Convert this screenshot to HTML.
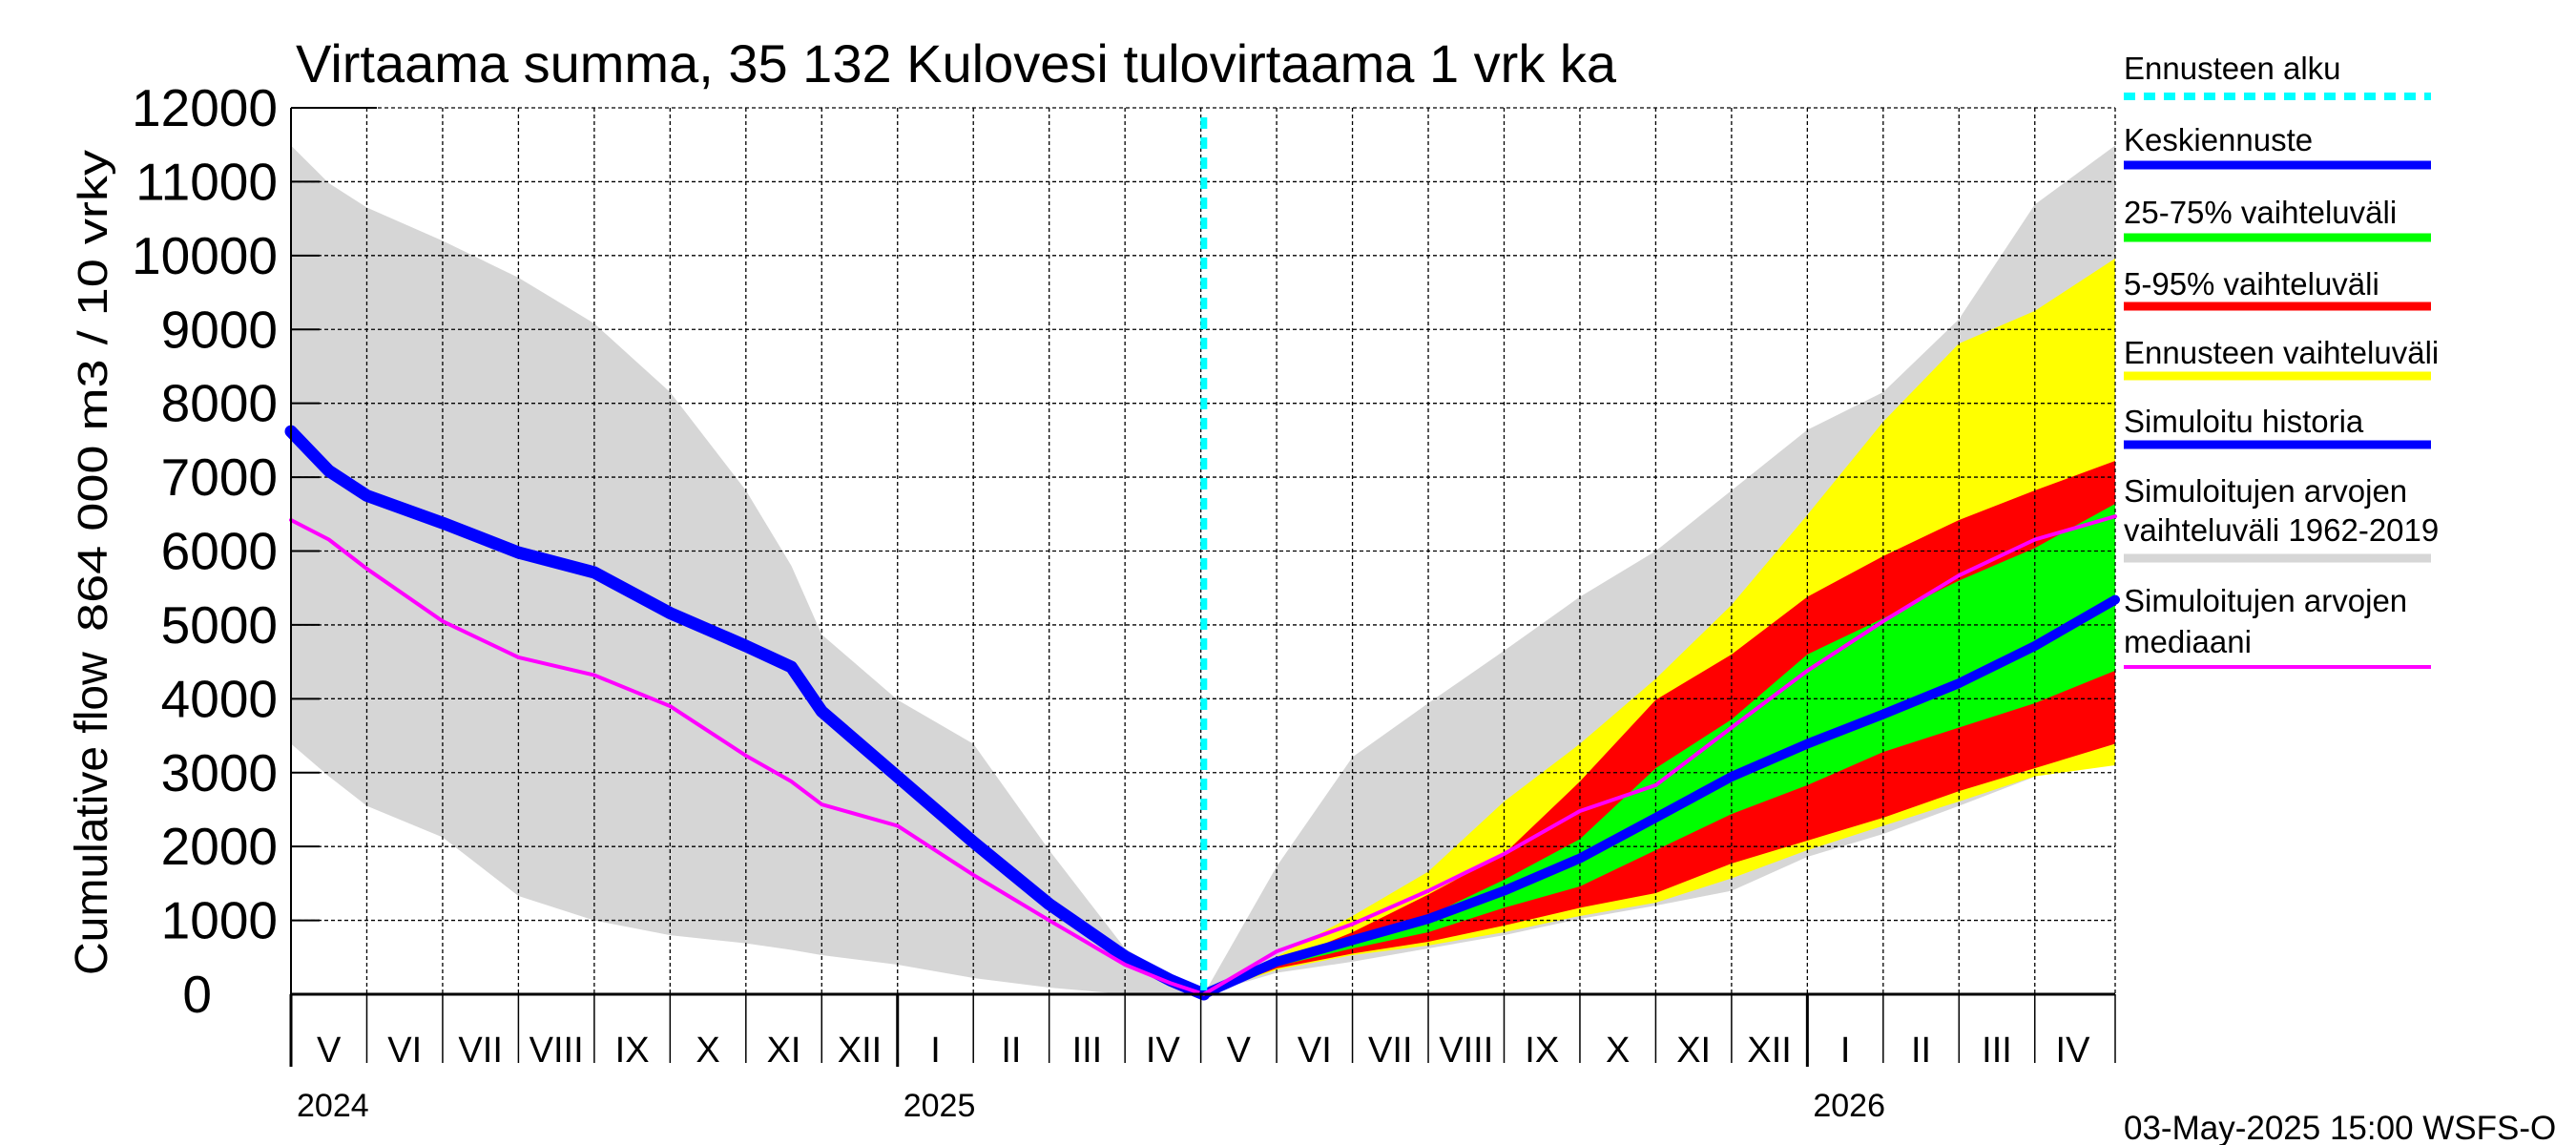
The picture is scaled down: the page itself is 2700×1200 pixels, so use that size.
<!DOCTYPE html>
<html><head><meta charset="utf-8"><style>
body{margin:0;background:#fff}
svg{display:block;font-family:"Liberation Sans",sans-serif}
</style></head><body>
<svg id="chart" width="2700" height="1200" viewBox="0 0 2700 1200" xmlns="http://www.w3.org/2000/svg">
<text x="310" y="86" font-size="56">Virtaama summa, 35 132 Kulovesi tulovirtaama 1 vrk ka</text>
<g font-size="48">
<text transform="translate(112,1022) rotate(-90)">Cumulative flow</text>
<text transform="translate(112,662) rotate(-90)" font-size="44" textLength="505" lengthAdjust="spacingAndGlyphs">864 000 m3 / 10 vrky</text>
</g>
<g id="fills"></g><g id="grid"></g><g id="lines"></g><g id="axes"></g>
<g font-size="33">
<text x="2226" y="83">Ennusteen alku</text>
<line x1="2226" y1="101" x2="2548" y2="101" stroke="#00ffff" stroke-width="8" stroke-dasharray="12,9"/>
<text x="2226" y="158">Keskiennuste</text>
<line x1="2226" y1="173" x2="2548" y2="173" stroke="#0000ff" stroke-width="9"/>
<text x="2226" y="234">25-75% vaihteluväli</text>
<line x1="2226" y1="249" x2="2548" y2="249" stroke="#00ff00" stroke-width="9"/>
<text x="2226" y="309">5-95% vaihteluväli</text>
<line x1="2226" y1="321" x2="2548" y2="321" stroke="#ff0000" stroke-width="9"/>
<text x="2226" y="381">Ennusteen vaihteluväli</text>
<line x1="2226" y1="394" x2="2548" y2="394" stroke="#ffff00" stroke-width="9"/>
<text x="2226" y="453">Simuloitu historia</text>
<line x1="2226" y1="466" x2="2548" y2="466" stroke="#0000ff" stroke-width="9"/>
<text x="2226" y="526">Simuloitujen arvojen</text>
<text x="2226" y="567">vaihteluväli 1962-2019</text>
<line x1="2226" y1="585" x2="2548" y2="585" stroke="#d6d6d6" stroke-width="9"/>
<text x="2226" y="641">Simuloitujen arvojen</text>
<text x="2226" y="684">mediaani</text>
<line x1="2226" y1="699" x2="2548" y2="699" stroke="#ff00ff" stroke-width="4"/>
</g>
<text x="2226" y="1194" font-size="35">03-May-2025 15:00 WSFS-O</text>
</svg>
<script>
// month index (0 = May 2024)
const histT = [0,0.5,1,2,3,4,5,6,6.6,7,8,9,10,11,11.6,12.04];
const histGrayHi = [11490,10980,10650,10200,9700,9080,8150,6820,5800,4870,3985,3390,1950,620,250,0];
const histGrayLo = [3390,2950,2550,2125,1330,1000,800,690,600,530,400,220,90,0,0,0];
const histBlue = [7620,7085,6750,6380,5980,5710,5160,4715,4430,3830,2945,2060,1220,510,190,0];
const histMag = [6420,6155,5760,5050,4560,4320,3900,3230,2880,2570,2280,1615,1000,400,150,0];
const fcT = [12.04,13,14,15,16,17,18,19,20,21,22,23,24.06];
const grayHi = [0,1730,3210,3940,4650,5380,6000,6820,7640,8150,9140,10690,11490];
const grayLo = [0,290,440,620,800,1020,1200,1400,1860,2170,2550,2945,3430];
const yelHi = [0,510,1060,1660,2610,3390,4270,5270,6490,7750,8810,9250,9960];
const yelLo = [0,330,530,660,840,1060,1240,1570,1950,2280,2610,2950,3100];
const redHi = [0,420,840,1350,1900,2880,3985,4600,5380,5930,6420,6820,7220];
const redLo = [0,350,550,710,930,1170,1370,1770,2080,2390,2750,3060,3390];
const grnHi = [0,400,730,1060,1550,2100,3060,3720,4600,5090,5600,6040,6640];
const grnLo = [0,380,620,840,1170,1460,1950,2440,2830,3280,3610,3940,4380];
const fcBlue = [0,440,730,1020,1400,1840,2390,2945,3390,3790,4210,4715,5340];
const fcMag = [0,580,950,1400,1900,2480,2830,3610,4380,5050,5670,6155,6470];
const yTicks = [0,1000,2000,3000,4000,5000,6000,7000,8000,9000,10000,11000,12000];
const monthLabels = ["V","VI","VII","VIII","IX","X","XI","XII","I","II","III","IV","V","VI","VII","VIII","IX","X","XI","XII","I","II","III","IV"];
const yearLabels = ["2024","2025","2026"];
const yearT = [0,8,20];
const forecastStartT = 12.04;

const L=305,R=2217,T=113,B=1042,TMAX=24.06;
const xs=t=>L+t*(R-L)/TMAX;
const ys=v=>B-v*(B-T)/12000;
const NS="http://www.w3.org/2000/svg";
function mk(tag,parent,attrs){const e=document.createElementNS(NS,tag);for(const k in attrs)e.setAttribute(k,attrs[k]);document.getElementById(parent).appendChild(e);return e;}
function band(t,hi,lo,color,name){
  let p=t.map((tt,i)=>xs(tt)+","+ys(hi[i]));
  for(let i=t.length-1;i>=0;i--)p.push(xs(t[i])+","+ys(lo[i]));
  const e=mk("polygon","fills",{points:p.join(" "),fill:color});
  
  
}
function line(t,v,color,w,name){
  const e=mk("polyline","lines",{points:t.map((tt,i)=>xs(tt)+","+ys(v[i])).join(" "),fill:"none",stroke:color,"stroke-width":w,"stroke-linejoin":"round","stroke-linecap":"round"});
  
  
}
band(histT,histGrayHi,histGrayLo,"#d6d6d6","history-sim-range");
band(fcT,grayHi,grayLo,"#d6d6d6","forecast-sim-range");
band(fcT,yelHi,yelLo,"#ffff00","forecast-range-band");
band(fcT,redHi,redLo,"#ff0000","band-5-95");
band(fcT,grnHi,grnLo,"#00ff00","band-25-75");
for(const v of yTicks){ if(v===0)continue;
  const g=mk("line","grid",{x1:L,x2:R,y1:ys(v),y2:ys(v),stroke:"#000","stroke-width":1.3,"stroke-dasharray":"4,3"});
  
  
  const tk=mk("line","axes",{x1:L,x2:L+30,y1:ys(v),y2:ys(v),stroke:"#000","stroke-width":2});
  
  
  const lb=mk("text","axes",{x:291,y:ys(v)+19,"text-anchor":"end","font-size":55});
  lb.textContent=v;  
}
{const lb=mk("text","axes",{x:222,y:ys(0)+19,"text-anchor":"end","font-size":55});lb.textContent="0";

}
for(let m=0;m<=24;m++){
  const x=xs(m===24?TMAX:m);
  const g=mk("line","grid",{x1:x,x2:x,y1:T,y2:B,stroke:"#000","stroke-width":1.3,"stroke-dasharray":"4,3"});
  
  
  const yr=yearT.includes(m);
  const tk=mk("line","axes",{x1:x,x2:x,y1:B,y2:yr?1118:1114,stroke:"#000","stroke-width":yr?3:1.5});
  
  
  if(m<24){const lb=mk("text","axes",{x:(xs(m)+xs(m+1))/2,y:1113,"text-anchor":"middle","font-size":38});
  lb.textContent=monthLabels[m];
  
  }
}
yearLabels.forEach((y,i)=>{const lb=mk("text","axes",{x:xs(yearT[i])+6,y:1170,"font-size":34});lb.textContent=y;

});
{const a=mk("line","axes",{x1:L,x2:R,y1:B,y2:B,stroke:"#000","stroke-width":3});
const b=mk("line","axes",{x1:L,x2:L,y1:T,y2:B,stroke:"#000","stroke-width":2});
const c=mk("line","axes",{x1:L,x2:L+90,y1:T,y2:T,stroke:"#000","stroke-width":2});}
line(histT,histBlue,"#0000ff",13,"simulated-history-line");
line(histT,histMag,"#ff00ff",4,"history-median-line");
line(fcT,fcBlue,"#0000ff",10,"mean-forecast-line");
line(fcT,fcMag,"#ff00ff",4,"forecast-median-line");
{const c=mk("line","lines",{x1:xs(forecastStartT),x2:xs(forecastStartT),y1:T+10,y2:B,stroke:"#00ffff","stroke-width":7,"stroke-dasharray":"12,9"});

}
</script>
</body></html>
